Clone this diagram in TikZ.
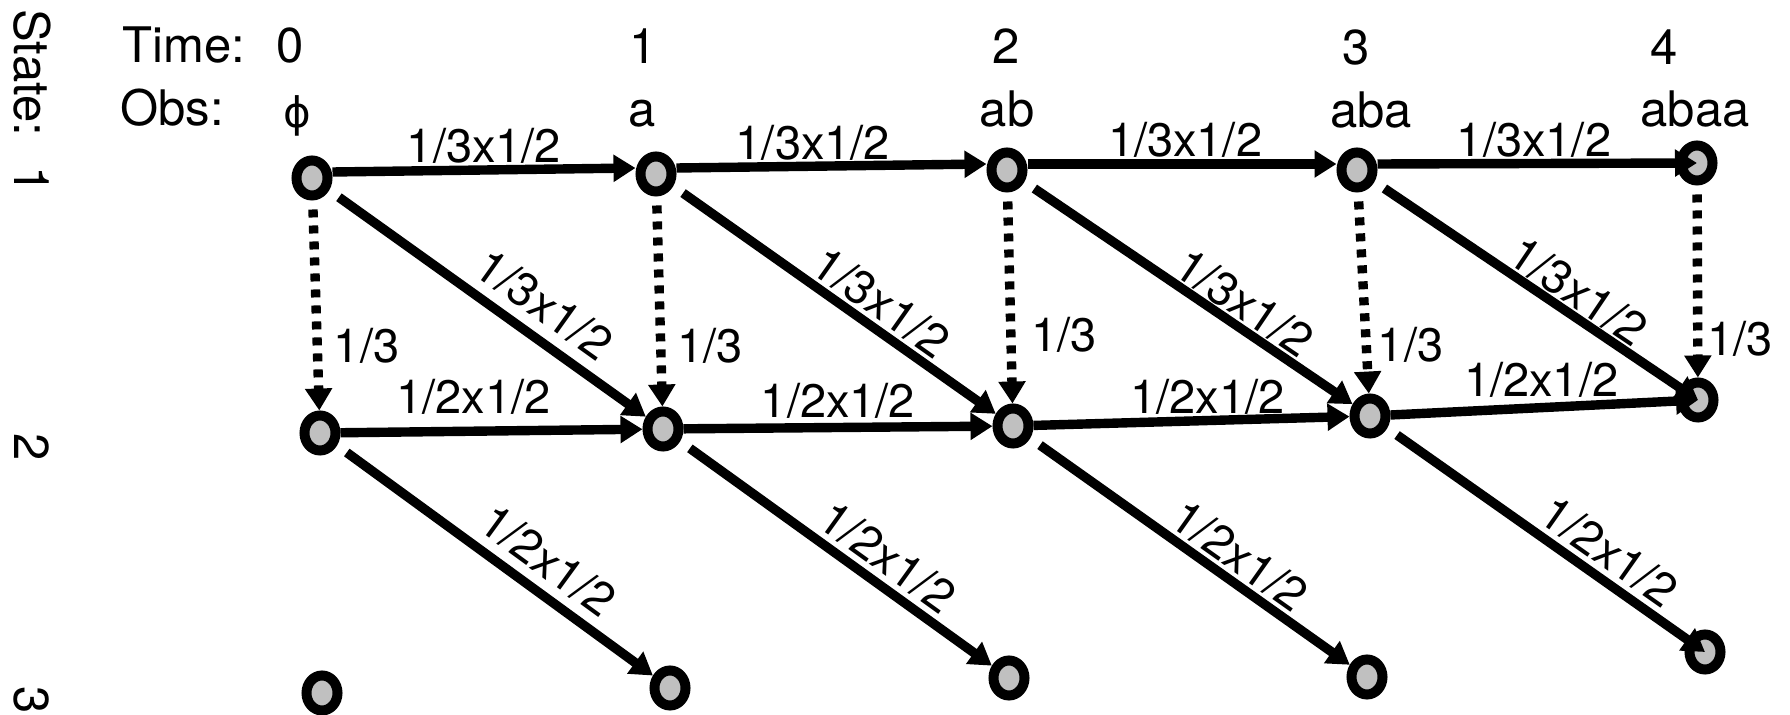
\documentclass[tikz,border=0pt]{standalone}
\usepackage{fontspec}
\setmainfont{TeX Gyre Heros}
\newfontfamily\dejavu{DejaVu Sans}
\usetikzlibrary{arrows.meta,shapes.geometric}
\definecolor{stgray}{RGB}{192,192,192}
\begin{document}
\begin{tikzpicture}[x=0.5pt,y=-0.5pt,
  st/.style={ellipse, draw=black, fill=stgray, line width=5pt, minimum width=15.5pt, minimum height=17.5pt, inner sep=0pt},
  arr/.style={line width=4.7pt, -{Triangle[length=11pt,width=13pt]}},
  diag/.style={arr, shorten <=6pt},
  dotarr/.style={arr, dash pattern=on 4pt off 4pt, shorten <=4.5pt},
  hd/.style={font=\fontsize{24.5}{28}\selectfont, inner sep=0pt},
  lab/.style={font=\fontsize{23.5}{27}\selectfont},
]
\useasboundingbox (0,0) rectangle (1790,715);

% headers
\node[hd, rotate=-90, anchor=base west] (state) at (15,9) {State:};
\node[hd, rotate=-90, anchor=base] (s1) at (15,180) {1};
\node[hd, rotate=-90, anchor=base] (s2) at (15,447) {2};
\node[hd, rotate=-90, anchor=base] (s3) at (15,700) {3};

\node[hd, anchor=base west] (time) at (122,63) {Time:};
\node[hd, anchor=base] (t0) at (290,63) {0};
\node[hd, anchor=base] (t1) at (643,64) {1};
\node[hd, anchor=base] (t2) at (1006,64) {2};
\node[hd, anchor=base] (t3) at (1356,65) {3};
\node[hd, anchor=base] (t4) at (1664,65) {4};

\node[hd, anchor=base west] (obs) at (120,126) {Obs:};
\node[font=\dejavu\fontsize{21}{24}\selectfont, inner sep=0pt, anchor=base] (o0) at (297,128) {ϕ};
\node[hd, anchor=base] (o1) at (642,127) {a};
\node[hd, anchor=base] (o2) at (1007,127) {ab};
\node[hd, anchor=base] (o3) at (1371,128) {aba};
\node[hd, anchor=base] (o4) at (1695,127) {abaa};

% states
\node[st] (a0) at (312,178) {};
\node[st] (a1) at (656,174) {};
\node[st] (a2) at (1007,170) {};
\node[st] (a3) at (1357,170) {};
\node[st] (a4) at (1697,163) {};
\node[st] (b0) at (320,433) {};
\node[st] (b1) at (663,429) {};
\node[st] (b2) at (1013,426) {};
\node[st] (b3) at (1370,416) {};
\node[st] (b4) at (1698,400) {};
\node[st] (c0) at (322,693) {};
\node[st] (c1) at (670,688) {};
\node[st] (c2) at (1009,678) {};
\node[st] (c3) at (1367,677) {};
\node[st] (c4) at (1705,652) {};

% row 1 horizontal
\draw[arr] ([yshift=3pt]a0.east) -- node[lab, anchor=base, pos=0.5, yshift=3.5pt]{1/3x1/2} ([yshift=3pt]a1.west);
\draw[arr] ([yshift=3pt]a1.east) -- node[lab, anchor=base, pos=0.44, yshift=3.5pt]{1/3x1/2} ([yshift=3pt]a2.west);
\draw[arr] ([yshift=3pt]a2.east) -- node[lab, anchor=base, pos=0.51, yshift=3.5pt]{1/3x1/2} ([yshift=3pt]a3.west);
\draw[arr] ([yshift=3pt]a3.east) -- node[lab, anchor=base, pos=0.49, yshift=3.5pt]{1/3x1/2} (a4.center);

% row 2 horizontal
\draw[arr] (b0) -- node[lab, anchor=base, pos=0.44, yshift=9pt]{1/2x1/2} (b1);
\draw[arr] (b1) -- node[lab, anchor=base, pos=0.5, yshift=5pt]{1/2x1/2} (b2);
\draw[arr] (b2) -- node[lab, anchor=base, pos=0.55, yshift=3.5pt]{1/2x1/2} (b3);
\draw[arr] (b3) -- node[lab, anchor=base, pos=0.49, yshift=5.5pt]{1/2x1/2} (b4.center);

% diagonals 1 -> 2
\draw[diag] (a0) -- node[lab, sloped, above, pos=0.62, inner sep=5pt]{1/3x1/2} (b1);
\draw[diag] (a1) -- node[lab, sloped, above, pos=0.6, inner sep=1.5pt]{1/3x1/2} (b2);
\draw[diag] (a2) -- node[lab, sloped, above, pos=0.63, inner sep=0.5pt]{1/3x1/2} (b3);
\draw[diag] (a3) -- node[lab, sloped, above, pos=0.59, inner sep=0.5pt]{1/3x1/2} (b4.center);

% diagonals 2 -> 3
\draw[diag] (b0) -- node[lab, sloped, above, pos=0.61, inner sep=4.5pt]{1/2x1/2} (c1);
\draw[diag] (b1) -- node[lab, sloped, above, pos=0.615, inner sep=2.5pt]{1/2x1/2} (c2);
\draw[diag] (b2) -- node[lab, sloped, above, pos=0.61, inner sep=1.5pt]{1/2x1/2} (c3);
\draw[diag] (b3) -- node[lab, sloped, above, pos=0.65, inner sep=2.5pt]{1/2x1/2} (c4.center);

% dotted verticals
\draw[dotarr] (a0) -- node[lab, right, pos=0.69, inner sep=6pt]{1/3} (b0);
\draw[dotarr] (a1) -- node[lab, right, pos=0.71, inner sep=6pt]{1/3} (b1);
\draw[dotarr] (a2) -- node[lab, right, pos=0.675, inner sep=8pt]{1/3} (b2);
\draw[dotarr] (a3) -- node[lab, right, pos=0.76, inner sep=3.5pt]{1/3} (b3);
\draw[dotarr] (a4) -- node[lab, right, pos=0.8, inner sep=2.5pt]{1/3} (b4);
\end{tikzpicture}
\end{document}
